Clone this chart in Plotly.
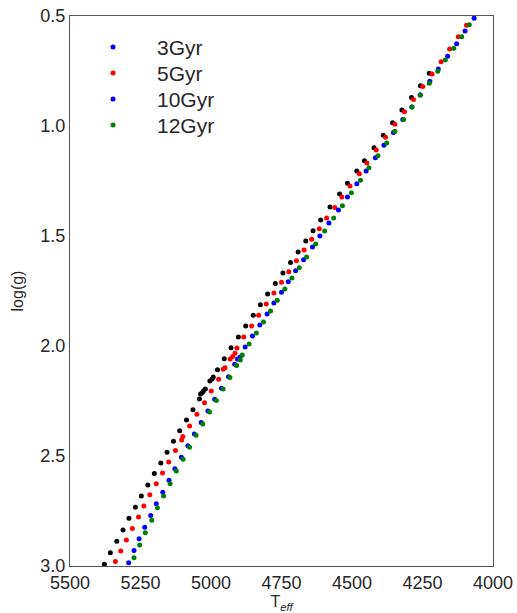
import plotly.graph_objects as go

# ---- data ----
teff_3 = [5378, 5357, 5334, 5312, 5291, 5268, 5247, 5224, 5201, 5178, 5156, 5133, 5111, 5087,
          5064, 5041, 5037, 5031, 5027, 5020, 5004, 4996, 4992, 4977, 4953, 4929, 4903, 4877,
          4850, 4825, 4799, 4772, 4745, 4718, 4691, 4664, 4638, 4611, 4578, 4544, 4516, 4483,
          4456, 4422, 4389, 4356, 4323, 4289, 4257, 4226]
logg_3 = [2.992, 2.940, 2.888, 2.836, 2.783, 2.733, 2.682, 2.632, 2.580, 2.532, 2.483, 2.433, 2.385, 2.336,
          2.290, 2.241, 2.218, 2.211, 2.205, 2.195, 2.159, 2.150, 2.141, 2.108, 2.058, 2.008, 1.959, 1.909,
          1.860, 1.812, 1.764, 1.716, 1.668, 1.620, 1.573, 1.523, 1.476, 1.427, 1.368, 1.309, 1.260, 1.205,
          1.158, 1.099, 1.042, 0.985, 0.927, 0.871, 0.817, 0.760]

teff_5 = [5339, 5320, 5300, 5279, 5257, 5238, 5217, 5194, 5172, 5150, 5126, 5104, 5100, 5076,
          5050, 5023, 4999, 4973, 4957, 4950, 4932, 4923, 4915, 4908, 4884, 4856, 4831, 4804,
          4777, 4750, 4724, 4697, 4670, 4643, 4616, 4590, 4561, 4536, 4507, 4474, 4447, 4414,
          4381, 4348, 4314, 4282, 4249, 4216, 4184, 4154, 4123, 4094]
logg_5 = [2.980, 2.932, 2.882, 2.829, 2.777, 2.727, 2.676, 2.626, 2.577, 2.527, 2.475, 2.427, 2.411, 2.364,
          2.310, 2.258, 2.205, 2.151, 2.106, 2.099, 2.059, 2.048, 2.033, 2.009, 1.959, 1.909, 1.860, 1.809,
          1.759, 1.710, 1.662, 1.612, 1.564, 1.515, 1.467, 1.418, 1.371, 1.323, 1.273, 1.217, 1.168, 1.109,
          1.051, 0.992, 0.935, 0.879, 0.821, 0.764, 0.708, 0.650, 0.594, 0.542]

teff_10 = [5292, 5273, 5255, 5235, 5214, 5194, 5171, 5149, 5128, 5105, 5082, 5059, 5035, 5011,
           4987, 4963, 4938, 4916, 4906, 4897, 4879, 4853, 4827, 4801, 4777, 4750, 4726, 4700,
           4672, 4640, 4614, 4582, 4548, 4516, 4483, 4450, 4417, 4387, 4353, 4320, 4288, 4258,
           4224, 4194, 4161, 4129, 4099, 4067]
logg_10 = [2.985, 2.930, 2.876, 2.824, 2.771, 2.717, 2.665, 2.610, 2.558, 2.506, 2.453, 2.400, 2.348, 2.295,
           2.242, 2.192, 2.140, 2.083, 2.059, 2.050, 2.005, 1.955, 1.905, 1.855, 1.805, 1.756, 1.708, 1.658,
           1.608, 1.550, 1.500, 1.441, 1.382, 1.323, 1.262, 1.205, 1.144, 1.087, 1.030, 0.970, 0.914, 0.858,
           0.797, 0.741, 0.683, 0.626, 0.568, 0.510]

teff_12 = [5273, 5253, 5233, 5210, 5190, 5168, 5145, 5123, 5099, 5076, 5053, 5029, 5005, 4981,
           4957, 4933, 4909, 4896, 4889, 4865, 4839, 4814, 4789, 4765, 4738, 4713, 4687, 4661,
           4629, 4597, 4565, 4534, 4502, 4470, 4440, 4408, 4377, 4348, 4317, 4287, 4258, 4226,
           4196, 4169, 4139, 4111, 4084]
logg_12 = [2.962, 2.905, 2.849, 2.792, 2.736, 2.682, 2.626, 2.568, 2.515, 2.460, 2.406, 2.355, 2.300, 2.248,
           2.196, 2.143, 2.089, 2.064, 2.041, 1.991, 1.941, 1.891, 1.841, 1.792, 1.741, 1.691, 1.644, 1.595,
           1.536, 1.477, 1.418, 1.362, 1.303, 1.247, 1.190, 1.135, 1.077, 1.024, 0.970, 0.914, 0.860, 0.806,
           0.751, 0.700, 0.647, 0.594, 0.540]

labels = ["3Gyr", "5Gyr", "10Gyr", "12Gyr"]
legend_colors = ["#0000ff", "#ff0000", "#0000ff", "#008000"]
plot_colors = ["#000000", "#ff0000", "#0000ff", "#008000"]

x_ticks = [5500, 5250, 5000, 4750, 4500, 4250, 4000]
x_ticklabels = ["5500", "5250", "5000", "4750", "4500", "4250", "4000"]
y_ticks = [0.5, 1.0, 1.5, 2.0, 2.5, 3.0]
y_ticklabels = ["0.5", "1.0", "1.5", "2.0", "2.5", "3.0"]

FONT = "Liberation Sans, Arial, sans-serif"
TXT = "#262626"

fig = go.Figure()
series = [(teff_3, logg_3), (teff_5, logg_5), (teff_10, logg_10), (teff_12, logg_12)]
for i, (tx, gy) in enumerate(series):
    fig.add_trace(go.Scatter(
        x=tx, y=gy, mode="markers", name=labels[i],
        marker=dict(color=plot_colors[i], size=5, line=dict(width=0)),
        showlegend=False,
    ))

# legend drawn in the upper-left corner of the axes (as in the reference)
L_X_MARK, L_X_TEXT, L_Y0, L_DY = 0.1017, 0.2009, 0.9436, 0.0473
for i, lab in enumerate(labels):
    yy = L_Y0 - i * L_DY
    fig.add_shape(type="circle", xref="paper", yref="paper",
                  xsizemode="pixel", ysizemode="pixel",
                  xanchor=L_X_MARK, yanchor=yy, x0=-2.5, x1=2.5, y0=-2.5, y1=2.5,
                  fillcolor=legend_colors[i], line=dict(width=0))
    fig.add_annotation(x=L_X_TEXT, y=yy, xref="paper", yref="paper",
                       xanchor="left", yanchor="middle", showarrow=False,
                       text=lab, font=dict(family=FONT, size=21, color=TXT))

axis_common = dict(
    showgrid=False, zeroline=False, showline=True, mirror=True,
    linecolor="#555555", linewidth=1.2, ticks="", automargin=False,
    tickfont=dict(family=FONT, size=18, color=TXT),
)

fig.update_layout(
    width=517, height=613,
    margin=dict(l=70, r=24, t=16, b=47),
    paper_bgcolor="white", plot_bgcolor="white",
    font=dict(family=FONT, color=TXT),
    showlegend=False,
    xaxis=dict(range=[5500, 4000], tickvals=x_ticks, ticktext=x_ticklabels,
               title=dict(text="T<sub><i>eff</i></sub>", font=dict(family=FONT, size=16, color=TXT), standoff=4),
               **axis_common),
    yaxis=dict(range=[3.0, 0.5], tickvals=y_ticks, ticktext=y_ticklabels,
               title=dict(text="log(g)", font=dict(family=FONT, size=16, color=TXT), standoff=12),
               **axis_common),
)

fig.write_html("out.html",
               config={"displayModeBar": False},
               post_script="document.body.style.margin='0';document.body.style.overflow='hidden';")
